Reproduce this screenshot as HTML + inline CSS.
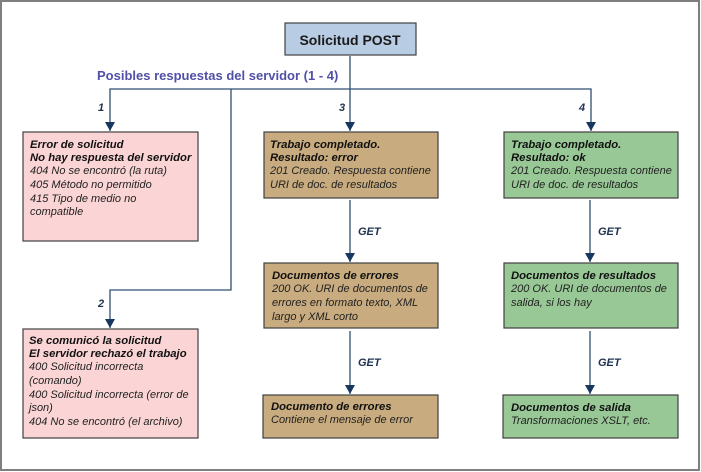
<!DOCTYPE html>
<html><head><meta charset="utf-8"><style>
html,body{margin:0;padding:0;background:#fff}
svg{display:block}
text{font-family:"Liberation Sans",Arial,sans-serif;font-style:italic;font-size:11px;fill:#222}
.t{font-weight:bold;font-size:11.3px;fill:#111}
.g{font-weight:bold;font-size:11px;fill:#1f3250}
</style></head><body>
<svg width="701" height="472" viewBox="0 0 701 472">
<defs><marker id="a" markerWidth="10" markerHeight="10" refX="9" refY="5" orient="auto" markerUnits="userSpaceOnUse"><path d="M0,0 L9,5 L0,10 Z" fill="#17375e"/></marker></defs>
<rect x="1" y="1" width="698" height="469" fill="#fff" stroke="#7f7f7f" stroke-width="2"/>
<rect x="285" y="23" width="131" height="32" fill="#b8cce4" stroke="#404040" stroke-width="1.2"/>
<text x="350" y="45" text-anchor="middle" style="font-style:normal;font-weight:bold;font-size:14px;fill:#1a1a1a">Solicitud POST</text>
<text x="97" y="80" style="font-style:normal;font-weight:bold;font-size:13px;fill:#5050a8">Posibles respuestas del servidor (1 - 4)</text>
<g stroke="#2f4f6f" stroke-width="1.3" fill="none">
<path d="M350,56 V131" marker-end="url(#a)"/>
<path d="M231,89 H110 V131" marker-end="url(#a)"/>
<path d="M231,89 H591 V131" marker-end="url(#a)"/>
<path d="M231,89 V290 H110 V328" marker-end="url(#a)"/>
<path d="M350,200 V262" marker-end="url(#a)"/>
<path d="M350,331 V394" marker-end="url(#a)"/>
<path d="M590,200 V262" marker-end="url(#a)"/>
<path d="M590,331 V394" marker-end="url(#a)"/>
</g>
<text class="g" x="98" y="111">1</text>
<text class="g" x="98" y="307">2</text>
<text class="g" x="339" y="111">3</text>
<text class="g" x="579" y="111">4</text>
<text class="g" x="358" y="235">GET</text>
<text class="g" x="358" y="366">GET</text>
<text class="g" x="598" y="235">GET</text>
<text class="g" x="598" y="366">GET</text>
<g stroke="#404040" stroke-width="1.2">
<rect x="23" y="132" width="175" height="109" fill="#fbd5d5"/>
<rect x="23" y="329" width="175" height="109" fill="#fbd5d5"/>
<rect x="264" y="132" width="174" height="66" fill="#c8ab7e"/>
<rect x="264" y="263" width="174" height="65" fill="#c8ab7e"/>
<rect x="263" y="395" width="175" height="43" fill="#c8ab7e"/>
<rect x="504" y="132" width="174" height="66" fill="#99c897"/>
<rect x="504" y="263" width="174" height="65" fill="#99c897"/>
<rect x="503" y="395" width="175" height="43" fill="#99c897"/>
</g>
<text class="t" x="30" y="148">Error de solicitud</text>
<text class="t" x="30" y="161">No hay respuesta del servidor</text>
<text x="30" y="174">404 No se encontró (la ruta)</text>
<text x="30" y="188">405 Método no permitido</text>
<text x="30" y="202">415 Tipo de medio no</text>
<text x="30" y="215">compatible</text>
<text class="t" x="29" y="344">Se comunicó la solicitud</text>
<text class="t" x="29" y="357">El servidor rechazó el trabajo</text>
<text x="29" y="370">400 Solicitud incorrecta</text>
<text x="29" y="384">(comando)</text>
<text x="29" y="398">400 Solicitud incorrecta (error de</text>
<text x="29" y="411">json)</text>
<text x="29" y="425">404 No se encontró (el archivo)</text>
<text class="t" x="270" y="148">Trabajo completado.</text>
<text class="t" x="270" y="161">Resultado: error</text>
<text x="270" y="174">201 Creado. Respuesta contiene</text>
<text x="270" y="188">URI de doc. de resultados</text>
<text class="t" x="272" y="279">Documentos de errores</text>
<text x="272" y="292">200 OK. URI de documentos de</text>
<text x="272" y="306">errores en formato texto, XML</text>
<text x="272" y="320">largo y XML corto</text>
<text class="t" x="271" y="410">Documento de errores</text>
<text x="271" y="423">Contiene el mensaje de error</text>
<text class="t" x="511" y="148">Trabajo completado.</text>
<text class="t" x="511" y="161">Resultado: ok</text>
<text x="511" y="174">201 Creado. Respuesta contiene</text>
<text x="511" y="188">URI de doc. de resultados</text>
<text class="t" x="511" y="279">Documentos de resultados</text>
<text x="511" y="292">200 OK. URI de documentos de</text>
<text x="511" y="306">salida, si los hay</text>
<text class="t" x="511" y="411">Documentos de salida</text>
<text x="511" y="424">Transformaciones XSLT, etc.</text>
</svg>
</body></html>
